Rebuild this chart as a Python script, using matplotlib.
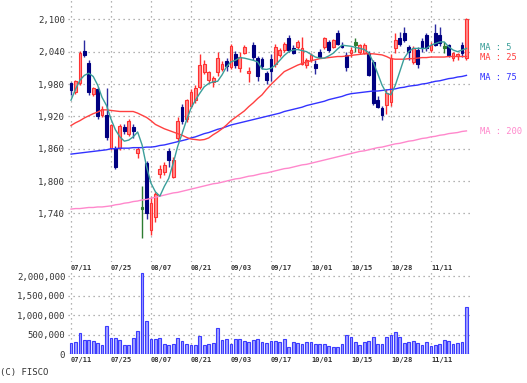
import matplotlib
matplotlib.use("Agg")
import matplotlib.pyplot as plt
import numpy as np

dates = ["07/11", "07/12", "07/16", "07/17", "07/18", "07/19", "07/22", "07/23", "07/24", "07/25",
         "07/26", "07/29", "07/30", "07/31", "08/01", "08/02", "08/05", "08/06", "08/07", "08/08",
         "08/09", "08/13", "08/14", "08/15", "08/16", "08/19", "08/20", "08/21", "08/22", "08/23",
         "08/26", "08/27", "08/28", "08/29", "08/30", "09/02", "09/03", "09/04", "09/05", "09/06",
         "09/09", "09/10", "09/11", "09/12", "09/13", "09/17", "09/18", "09/19", "09/20", "09/24",
         "09/25", "09/26", "09/27", "09/30", "10/01", "10/02", "10/03", "10/04", "10/07", "10/08",
         "10/09", "10/10", "10/11", "10/15", "10/16", "10/17", "10/18", "10/21", "10/22", "10/23",
         "10/24", "10/25", "10/28", "10/29", "10/30", "10/31", "11/01", "11/05", "11/06", "11/07",
         "11/08", "11/11", "11/12", "11/13", "11/14", "11/15", "11/18", "11/19", "11/20", "11/21"]

opens = [1982, 1965, 1982, 2042, 2019, 1962, 1971, 1922, 1922, 1861,
         1861, 1862, 1900, 1887, 1900, 1852, 1750, 1833, 1710, 1733,
         1814, 1817, 1855, 1808, 1880, 1938, 1915, 1940, 1950, 1975,
         2003, 1988, 1983, 2002, 2008, 2022, 2012, 2036, 2010, 2038,
         2000, 2052, 2028, 2027, 2000, 2026, 2018, 2034, 2043, 2065,
         2046, 2049, 2018, 2015, 2024, 2018, 2040, 2049, 2058, 2049,
         2074, 2052, 2034, 2037, 2055, 2040, 2037, 2037, 2021, 1950,
         1935, 1941, 1947, 2046, 2065, 2074, 2049, 2021, 2043, 2060,
         2071, 2043, 2074, 2070, 2048, 2052, 2028, 2032, 2052, 2028]
highs = [1984, 1988, 2042, 2062, 2025, 1975, 1975, 1940, 1972, 1906,
         1865, 1906, 1905, 1915, 1905, 1864, 1790, 1838, 1770, 1780,
         1830, 1835, 1861, 1845, 1918, 1942, 1952, 1970, 1978, 2035,
         2025, 2005, 1995, 2040, 2022, 2028, 2055, 2042, 2040, 2052,
         2012, 2058, 2032, 2030, 2004, 2035, 2055, 2046, 2058, 2070,
         2052, 2062, 2068, 2028, 2038, 2024, 2045, 2068, 2062, 2064,
         2080, 2058, 2040, 2048, 2065, 2055, 2056, 2042, 2024, 1958,
         1940, 1970, 2035, 2075, 2076, 2086, 2052, 2050, 2048, 2065,
         2075, 2058, 2092, 2085, 2058, 2055, 2040, 2038, 2058, 2102]
lows = [1960, 1962, 1978, 2031, 1960, 1958, 1915, 1918, 1877, 1858,
        1822, 1858, 1888, 1884, 1880, 1843, 1694, 1730, 1700, 1725,
        1806, 1812, 1827, 1805, 1875, 1905, 1910, 1935, 1945, 1970,
        1998, 1982, 1975, 1995, 2004, 2005, 2008, 2010, 2003, 2035,
        1984, 2025, 1985, 2008, 1980, 1985, 2012, 2030, 2040, 2040,
        2035, 2045, 2015, 2010, 2020, 1998, 2028, 2045, 2040, 2046,
        2052, 2046, 2005, 2030, 2040, 2036, 2035, 1994, 1941, 1935,
        1913, 1925, 1940, 2037, 2050, 2058, 2025, 2018, 2010, 2040,
        2042, 2040, 2050, 2050, 2037, 2030, 2022, 2025, 2030, 2025]
closes = [1969, 1985, 2037, 2034, 1966, 1972, 1920, 1933, 1882, 1904,
          1826, 1902, 1892, 1912, 1892, 1860, 1750, 1740, 1760, 1776,
          1822, 1830, 1839, 1839, 1912, 1912, 1950, 1965, 1973, 2015,
          2018, 2002, 1992, 2028, 2018, 2013, 2050, 2016, 2030, 2048,
          2005, 2030, 1995, 2013, 1987, 2005, 2049, 2043, 2055, 2043,
          2037, 2058, 2046, 2024, 2034, 2009, 2031, 2065, 2043, 2061,
          2055, 2049, 2012, 2043, 2055, 2052, 2052, 1997, 1945, 1938,
          1922, 1963, 2028, 2062, 2055, 2062, 2040, 2046, 2018, 2046,
          2046, 2052, 2052, 2056, 2048, 2034, 2037, 2035, 2037, 2100]
volumes = [284000, 310000, 543000, 370000, 353000, 328000, 284000, 224000, 715000, 414000,
           414000, 353000, 224000, 241000, 422000, 586000, 2080000, 845000, 397000, 397000,
           414000, 250000, 224000, 267000, 414000, 328000, 250000, 224000, 224000, 457000,
           224000, 250000, 293000, 672000, 370000, 397000, 250000, 397000, 397000, 328000,
           310000, 353000, 397000, 302000, 276000, 345000, 345000, 319000, 388000, 190000,
           302000, 276000, 259000, 319000, 319000, 259000, 259000, 259000, 216000, 172000,
           172000, 259000, 500000, 431000, 302000, 233000, 302000, 345000, 448000, 259000,
           259000, 431000, 500000, 560000, 448000, 276000, 302000, 345000, 284000, 233000,
           302000, 216000, 241000, 259000, 362000, 345000, 259000, 284000, 302000, 1207000]

ma5 = [1950, 1970, 1987, 1996, 2000, 1994, 1978, 1955, 1940, 1915,
       1895, 1882, 1874, 1876, 1882, 1891, 1867, 1827, 1796, 1780,
       1772, 1790, 1805, 1833, 1864, 1888, 1913, 1935, 1950, 1963,
       1975, 1981, 1984, 1985, 1997, 2012, 2021, 2024, 2029, 2028,
       2026, 2024, 2021, 2008, 2007, 2009, 2015, 2024, 2033, 2040,
       2043, 2044, 2042, 2040, 2035, 2030, 2028, 2028, 2032, 2037,
       2045, 2052, 2051, 2050, 2048, 2046, 2044, 2038, 2021, 2000,
       1978, 1963, 1960, 1978, 2003, 2028, 2040, 2046, 2046, 2046,
       2046, 2052, 2055, 2058, 2058, 2049, 2043, 2040, 2043, 2046]
ma25 = [1903, 1908, 1912, 1917, 1921, 1925, 1928, 1932, 1932, 1931,
        1930, 1929, 1929, 1929, 1929, 1926, 1922, 1918, 1912, 1905,
        1901, 1897, 1894, 1891, 1888, 1885, 1881, 1878, 1877, 1876,
        1877, 1880, 1886, 1891, 1897, 1904, 1912, 1918, 1924, 1930,
        1938, 1945, 1953, 1960, 1970, 1979, 1987, 1995, 2003, 2007,
        2011, 2015, 2018, 2021, 2023, 2025, 2027, 2028, 2029, 2030,
        2031, 2031, 2032, 2033, 2034, 2035, 2036, 2036, 2036, 2035,
        2034, 2031, 2027, 2026, 2026, 2026, 2027, 2027, 2028, 2029,
        2029, 2030, 2030, 2030, 2030, 2031, 2031, 2031, 2031, 2031]
ma75 = [1850, 1851, 1852, 1853, 1854, 1855, 1856, 1857, 1858, 1860,
        1860, 1861, 1861, 1861, 1862, 1862, 1862, 1863, 1863, 1864,
        1866, 1867, 1869, 1871, 1873, 1875, 1877, 1880, 1882, 1885,
        1888, 1890, 1893, 1896, 1898, 1901, 1904, 1906, 1908, 1910,
        1912, 1914, 1916, 1918, 1920, 1922, 1924, 1926, 1929, 1931,
        1933, 1935, 1937, 1940, 1942, 1944, 1946, 1948, 1951, 1953,
        1955, 1957, 1960, 1962, 1963, 1964, 1965, 1966, 1967, 1967,
        1968, 1969, 1970, 1971, 1973, 1974, 1976, 1977, 1978, 1980,
        1981, 1983, 1985, 1986, 1988, 1990, 1991, 1993, 1994, 1996]
ma200 = [1748, 1749, 1749, 1750, 1751, 1751, 1752, 1752, 1753, 1754,
         1756, 1757, 1759, 1760, 1762, 1763, 1765, 1766, 1768, 1770,
         1772, 1774, 1776, 1778, 1779, 1781, 1783, 1785, 1787, 1789,
         1791, 1793, 1795, 1796, 1798, 1800, 1802, 1804, 1805, 1807,
         1809, 1810, 1812, 1814, 1815, 1817, 1819, 1821, 1823, 1824,
         1826, 1828, 1830, 1831, 1833, 1835, 1837, 1839, 1841, 1843,
         1845, 1847, 1849, 1851, 1853, 1855, 1856, 1858, 1860, 1862,
         1863, 1865, 1867, 1869, 1870, 1872, 1874, 1875, 1877, 1879,
         1880, 1882, 1883, 1885, 1886, 1888, 1889, 1890, 1892, 1893]

price_ticks = [1740, 1800, 1860, 1920, 1980, 2040, 2100]
volume_ticks = [0, 500000, 1000000, 1500000, 2000000]
ma_names = ["MA : 5", "MA : 25", "MA : 75", "MA : 200"]

UP_FACE, UP_EDGE = "#ff8a8a", "#ff3030"
DN_FACE, DN_EDGE = "#000080", "#2a2aa0"
EQ_COLOR = "#2e7d32"
MA_COLORS = ["#3a9e9a", "#ff4040", "#3333ff", "#ff88cc"]
GRID_KW = dict(color="#9a9a9a", linestyle=(0, (1, 3)), linewidth=0.9)
TXT = "#333333"

W, H = 527, 383
fig = plt.figure(figsize=(W / 100, H / 100), dpi=100)

x_left, x_right = 68, 470
ax = fig.add_axes([x_left / W, 1 - 262 / H, (x_right - x_left) / W, 262 / H])
axv = fig.add_axes([x_left / W, 1 - 354 / H, (x_right - x_left) / W, (354 - 271) / H])

n = len(closes)
idx = np.arange(n)
o = np.array(opens); c = np.array(closes); hi = np.array(highs); lo = np.array(lows)
up = c > o
dn = c < o
eq = c == o

xlim = (-0.675, 89.8)
tick_pos = idx[::9]
tick_lab = dates[::9]

for a in (ax, axv):
    a.set_xlim(*xlim)
    for s in a.spines.values():
        s.set_visible(False)
    a.set_xticks(tick_pos)
    a.set_xticklabels(tick_lab, ha="left", fontsize=5, fontweight="bold",
                      color=TXT, family="DejaVu Sans Mono")
    a.tick_params(axis="both", length=0, pad=2)
    a.grid(True, **GRID_KW)
    a.set_axisbelow(True)
    a.set_facecolor("none")

# Price panel
ax.set_ylim(1649.9, 2135.8)
ax.set_yticks(price_ticks)
ax.set_yticklabels([f"{v:,}" for v in price_ticks], fontsize=6.5, color=TXT,
                   family="DejaVu Sans Mono")

bw = 0.62
ax.vlines(idx[up], lo[up], hi[up], color=UP_EDGE, lw=1.0, zorder=3)
ax.vlines(idx[dn], lo[dn], hi[dn], color=DN_EDGE, lw=1.0, zorder=3)
ax.vlines(idx[eq], lo[eq], hi[eq], color=EQ_COLOR, lw=1.0, zorder=3)
ax.bar(idx[up], (c - o)[up], bottom=o[up], width=bw, color=UP_FACE,
       edgecolor=UP_EDGE, linewidth=0.8, zorder=4)
ax.bar(idx[dn], (o - c)[dn], bottom=c[dn], width=bw, color=DN_FACE,
       edgecolor=DN_FACE, linewidth=0.8, zorder=4)
ax.bar(idx[eq], 4, bottom=c[eq] - 2, width=bw, color=EQ_COLOR,
       edgecolor=EQ_COLOR, linewidth=0.8, zorder=4)

for series, col in zip([ma200, ma75, ma25, ma5], MA_COLORS[::-1]):
    ax.plot(idx, series, color=col, lw=1.0, zorder=5)

# MA legend labels at right
label_y = [47, 58, 77, 131]
for name, col, yy in zip(ma_names, MA_COLORS, label_y):
    fig.text(480 / W, 1 - yy / H, name, color=col, fontsize=6.3,
             family="DejaVu Sans Mono", va="center", ha="left")

# Volume panel
axv.set_ylim(0, 2140000)
axv.set_yticks(volume_ticks)
axv.set_yticklabels([f"{v:,}" for v in volume_ticks], fontsize=6.5, color=TXT,
                    family="DejaVu Sans Mono")
axv.bar(idx, volumes, width=0.62, color="#a0a0ff", edgecolor="#3c3cff",
        linewidth=0.8, zorder=3)

fig.text(0 / W, 1 - 372 / H, "(C) FISCO", fontsize=6.5, color=TXT,
         family="DejaVu Sans Mono", va="center", ha="left")

fig.savefig("out.png", dpi=100)
